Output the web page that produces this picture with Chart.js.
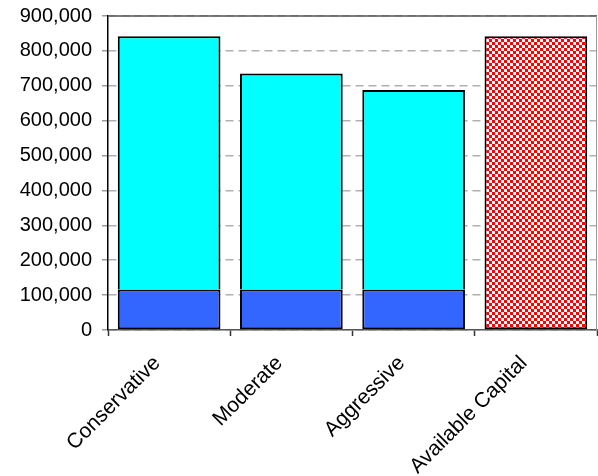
<!DOCTYPE html>
<html>
<head>
<meta charset="utf-8">
<style>
  html, body { margin: 0; padding: 0; background: #ffffff; }
  canvas { display: block; }
</style>
<script src="https://cdn.jsdelivr.net/npm/chart.js@4"></script>
</head>
<body>
<canvas id="chart" width="598" height="476"></canvas>
<script>
// Portfolio capital requirement by strategy vs. available capital
const categories = ['Conservative', 'Moderate', 'Aggressive', 'Available Capital'];
const baseAmount = [116000, 116000, 116000, null];
const additionalAmount = [726000, 619000, 572000, null];
const availableCapital = [null, null, null, 842000];
const yTicks = [0, 100000, 200000, 300000, 400000, 500000, 600000, 700000, 800000, 900000];

// Red/white checkerboard fill
function checkerPattern() {
  const c = 3;
  const tile = document.createElement('canvas');
  tile.width = 2 * c; tile.height = 2 * c;
  const t = tile.getContext('2d');
  t.fillStyle = '#ffffff';
  t.fillRect(0, 0, 2 * c, 2 * c);
  t.fillStyle = '#ff0000';
  t.fillRect(0, 0, c, c);
  t.fillRect(c, c, c, c);
  return document.getElementById('chart').getContext('2d').createPattern(tile, 'repeat');
}

// Top and right frame of the plot area
const frame = {
  id: 'frame',
  afterDraw(chart) {
    const { ctx, chartArea: a } = chart;
    ctx.save();
    ctx.lineWidth = 1.5;
    ctx.strokeStyle = '#555555';
    ctx.beginPath();
    ctx.moveTo(a.left, a.top);
    ctx.lineTo(a.right, a.top);
    ctx.stroke();
    ctx.strokeStyle = '#9a9a9a';
    ctx.lineWidth = 1;
    ctx.beginPath();
    ctx.moveTo(a.right - 0.5, a.top);
    ctx.lineTo(a.right - 0.5, a.bottom);
    ctx.stroke();
    ctx.restore();
  }
};

const barStyle = {
  stack: 'total',
  borderColor: '#000000',
  borderSkipped: false,
  barPercentage: 0.84,
  categoryPercentage: 1.0
};

new Chart(document.getElementById('chart'), {
  type: 'bar',
  data: {
    labels: categories,
    datasets: [
      Object.assign({ label: 'Base', data: baseAmount, backgroundColor: '#3366ff', borderWidth: 2 }, barStyle),
      Object.assign({ label: 'Additional', data: additionalAmount, backgroundColor: '#00ffff',
        borderWidth: { top: 2, left: 2, right: 2, bottom: 0 } }, barStyle),
      Object.assign({ label: 'Available Capital', data: availableCapital, backgroundColor: checkerPattern(), borderWidth: 2 }, barStyle)
    ]
  },
  options: {
    responsive: false,
    animation: false,
    layout: { padding: { top: 16, right: 1, left: 0, bottom: 0 } },
    plugins: { legend: { display: false }, tooltip: { enabled: false } },
    scales: {
      x: {
        stacked: true,
        afterFit(scale) { scale.height = 146; },
        grid: {
          offset: true,
          drawOnChartArea: false,
          drawTicks: true,
          tickLength: 6,
          tickColor: '#333333',
          tickWidth: 1.5
        },
        border: { display: true, color: '#555555', width: 1.5 },
        ticks: {
          minRotation: 45,
          maxRotation: 45,
          autoSkip: false,
          padding: 15,
          labelOffset: -12,
          color: '#000000',
          font: { family: '"Liberation Sans", Arial, sans-serif', size: 21 }
        }
      },
      y: {
        stacked: true,
        min: 0,
        max: 900000,
        afterFit(scale) { scale.width = 108; scale.paddingTop = 0; scale.paddingBottom = 0; },
        afterBuildTicks(scale) { scale.ticks = yTicks.map(v => ({ value: v })); },
        grid: {
          color: '#b0b0b0',
          lineWidth: 1.5,
          drawTicks: true,
          tickLength: 6,
          tickColor: '#9a9a9a',
          tickWidth: 1.5
        },
        border: { display: true, color: '#000000', width: 1.5, dash: [8, 5] },
        ticks: {
          padding: 10,
          color: '#000000',
          font: { family: '"Liberation Sans", Arial, sans-serif', size: 20 },
          callback: v => v.toLocaleString('en-US')
        }
      }
    }
  },
  plugins: [frame]
});
</script>
</body>
</html>
